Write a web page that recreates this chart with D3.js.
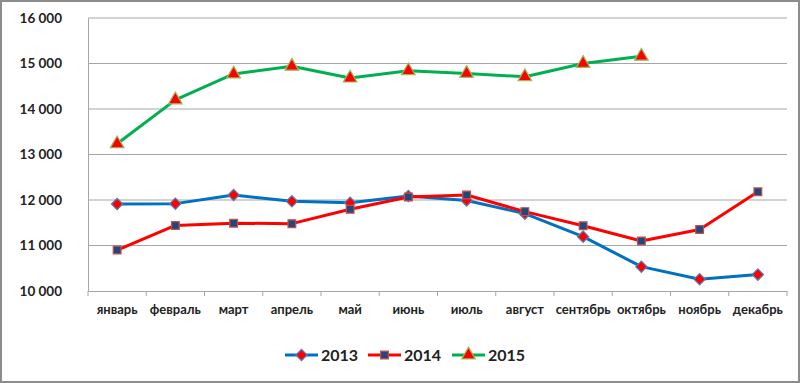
<!DOCTYPE html>
<html>
<head>
<meta charset="utf-8">
<script src="https://cdn.jsdelivr.net/npm/d3@7"></script>
<style>
body { margin: 0; background: #fff; }
text { font-family: Lato, "Open Sans", sans-serif; font-weight: bold; fill: #222; }
</style>
</head>
<body>
<script>
var months = ["январь", "февраль", "март", "апрель", "май", "июнь", "июль", "август", "сентябрь", "октябрь", "ноябрь", "декабрь"];
var years = ["2013", "2014", "2015"];
var v2013 = [11910, 11920, 12110, 11970, 11940, 12090, 11990, 11700, 11195, 10535, 10260, 10360];
var v2014 = [10900, 11440, 11490, 11480, 11795, 12065, 12110, 11745, 11435, 11100, 11350, 12180];
var v2015 = [13235, 14200, 14770, 14940, 14680, 14840, 14780, 14710, 15000, 15160];
var yTicks = [10000, 11000, 12000, 13000, 14000, 15000, 16000];

var w = 800, h = 383;
var svg = d3.select("body").append("svg").attr("width", w).attr("height", h);

// outer frame
svg.append("rect").attr("x", 1).attr("y", 1).attr("width", w - 2).attr("height", h - 2)
    .attr("fill", "#fff").attr("stroke", "#8c8c8c").attr("stroke-width", 2);

var x = d3.scaleBand().domain(months).range([88, 787]);
var y = d3.scaleLinear().domain([10000, 16000]).range([291, 18]);

// gridlines
svg.selectAll(".grid").data(yTicks.slice(1)).enter()
    .append("line")
    .attr("x1", 88).attr("x2", 787)
    .attr("y1", function (d) { return y(d); })
    .attr("y2", function (d) { return y(d); })
    .attr("stroke", "#a6a6a6").attr("stroke-width", 1);

// y axis
var yAxis = svg.append("g").attr("transform", "translate(88,0)")
    .call(d3.axisLeft(y).tickValues(yTicks).tickSize(0).tickPadding(26)
        .tickFormat(function (d) { return d3.format(",")(d).replace(",", " "); }));
yAxis.select(".domain").attr("stroke", "#a6a6a6");
yAxis.selectAll("text").style("font-size", "13.5px");

// x axis
var xAxis = svg.append("g").attr("transform", "translate(0,291)")
    .call(d3.axisBottom(x).tickSize(0).tickPadding(14));
xAxis.select(".domain").attr("stroke", "#a6a6a6");
xAxis.selectAll("text").style("font-size", "13px");
// tick marks at band edges
svg.selectAll(".xt").data(months.concat([null])).enter()
    .append("line")
    .attr("x1", function (d, i) { return 88 + i * x.step(); })
    .attr("x2", function (d, i) { return 88 + i * x.step(); })
    .attr("y1", 291).attr("y2", 296)
    .attr("stroke", "#a6a6a6");

var series = [
    {name: "2013", vals: v2013, color: "#0070c0", mark: d3.symbolSquare, rot: 45, fill: "#ff0000", edge: "#4f81bd", size: 64},
    {name: "2014", vals: v2014, color: "#ff0000", mark: d3.symbolSquare, rot: 0, fill: "#1f497d", edge: "#c0504d", size: 60},
    {name: "2015", vals: v2015, color: "#00b050", mark: d3.symbolTriangle, rot: 0, fill: "#ff0000", edge: "#9bbb59", size: 80}
];

var line = d3.line()
    .x(function (d, i) { return x(months[i]) + x.bandwidth() / 2; })
    .y(function (d) { return y(d); });

series.forEach(function (s) {
    svg.append("path").datum(s.vals)
        .attr("d", line).attr("fill", "none")
        .attr("stroke", s.color).attr("stroke-width", 3)
        .attr("stroke-linejoin", "round");
    svg.selectAll(".m" + s.name).data(s.vals).enter()
        .append("path")
        .attr("transform", function (d, i) {
            return "translate(" + (x(months[i]) + x.bandwidth() / 2) + "," + y(d) + ") rotate(" + s.rot + ")";
        })
        .attr("d", d3.symbol().type(s.mark).size(s.size))
        .attr("fill", s.fill).attr("stroke", s.edge).attr("stroke-width", 1.2);
});

// legend
var legX = [285, 368, 452];
series.forEach(function (s, i) {
    var g = svg.append("g").attr("transform", "translate(" + legX[i] + ",355)");
    g.append("line").attr("x1", 0).attr("x2", 33).attr("y1", 0).attr("y2", 0)
        .attr("stroke", s.color).attr("stroke-width", 3);
    g.append("path").attr("transform", "translate(16.5,0) rotate(" + s.rot + ")")
        .attr("d", d3.symbol().type(s.mark).size(s.size))
        .attr("fill", s.fill).attr("stroke", s.edge).attr("stroke-width", 1.2);
    g.append("text").attr("x", 36).attr("y", 5.5).style("font-size", "16px").text(s.name);
});
</script>
</body>
</html>
